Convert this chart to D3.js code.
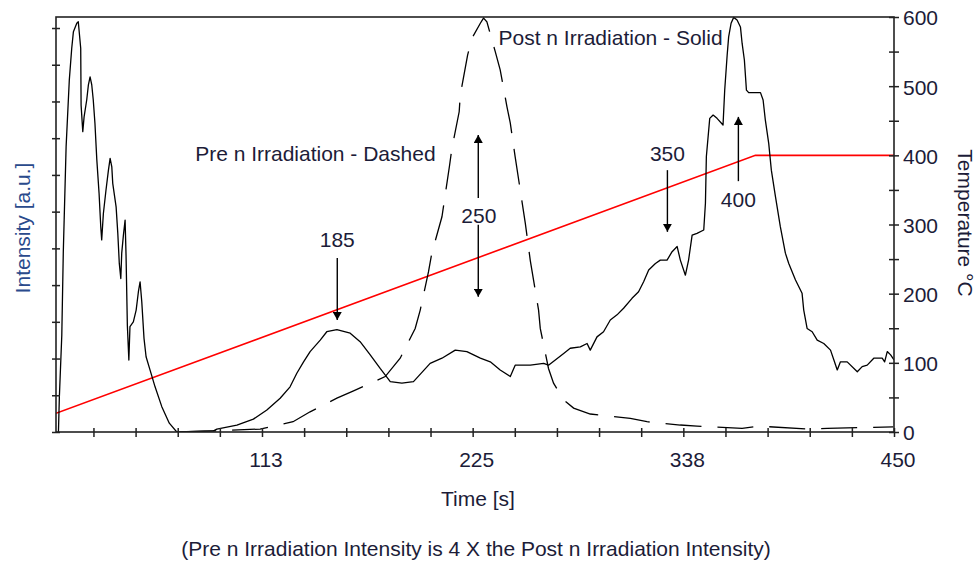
<!DOCTYPE html>
<html>
<head>
<meta charset="utf-8">
<script src="https://cdn.jsdelivr.net/npm/d3@7"></script>
<style>
  html, body { margin: 0; padding: 0; background: #fff; }
  svg { display: block; font-family: "Liberation Sans", Arial, sans-serif; }
</style>
</head>
<body>
<svg id="chart" width="979" height="566"></svg>
<script>
// ---- data -------------------------------------------------------------
// Time ticks every 22.5 s, labelled every 112.5 s
const timeTicks = d3.range(22.5, 450.01, 22.5);
const timeLabels = [112.5, 225, 337.5, 450];
// Intensity axis carries unlabelled ticks only
const intensityTicks = d3.range(0, 12, 1);
// Temperature axis: minor ticks every 50 °C, labels every 100 °C
const tempTicks = d3.range(0, 601, 50);
const tempLabels = [0, 100, 200, 300, 400, 500, 600];

// Post n irradiation glow curve (solid) : [time s, intensity a.u.]
const postSolid = [
  [3.8,0],[4.3,0.96],[5.6,2.64],[6.4,4.91],[7.9,7.77],[9.6,9.58],[10.9,10.45],[11.8,10.90],
  [13.6,11.13],[14.4,11.17],[15.7,10.45],[15.9,8.90],[16.8,8.18],[17.5,8.58],[18.9,9.04],
  [19.8,9.45],[20.7,9.67],[21.6,9.45],[22.4,9.04],[23.3,8.40],[24.3,7.41],[25.5,6.50],
  [26.4,5.59],[26.9,5.23],[27.8,5.95],[29.2,6.59],[30.5,7.13],[31.4,7.45],[32.3,7.22],
  [32.8,6.77],[34.6,6.13],[35.5,5.41],[36.3,4.59],[37.1,4.18],[37.6,4.87],[38.5,5.36],
  [39.4,5.77],[39.9,4.82],[40.6,2.91],[41.4,1.96],[42.0,2.87],[43.8,3.00],[45.3,3.32],
  [46.5,3.82],[47.4,4.09],[48.3,3.55],[49.5,2.55],[50.6,2.05],[52.7,1.69],[55.4,1.23],
  [59.0,0.69],[63.0,0.24],[67.0,0],[86.6,0.03],[88.4,0.08],[99.1,0.19],[107.9,0.35],
  [115.1,0.60],[122.2,0.92],[127.5,1.23],[131.1,1.60],[134.7,1.91],[138.2,2.19],[143.6,2.50],
  [147.1,2.73],[152.5,2.79],[159.6,2.69],[164.9,2.46],[170.3,2.10],[175.6,1.73],[181.0,1.37],
  [187.2,1.33],[193.4,1.37],[202.3,1.87],[208.6,2.01],[215.7,2.23],[221.9,2.19],[229.1,2.01],
  [234.4,1.91],[239.7,1.69],[245.1,1.51],[247.7,1.82],[255.8,1.82],[262.9,1.87],[265.5,1.82],
  [273.6,2.14],[277.1,2.28],[282.5,2.32],[286.1,2.41],[287.8,2.23],[291.4,2.59],[294.9,2.73],
  [298.5,3.05],[302.1,3.19],[305.6,3.37],[310.1,3.64],[313.6,3.82],[316.3,4.09],[319.0,4.41],
  [322.6,4.59],[325.2,4.68],[328.8,4.68],[331.5,4.91],[334.2,5.05],[335.9,4.68],[338.6,4.27],
  [340.3,4.68],[342.2,5.36],[344.8,5.41],[348.4,5.50],[349.3,6.23],[349.8,7.50],[351.6,8.54],
  [353.4,8.63],[355.5,8.54],[358.7,8.36],[359.6,9.31],[360.9,10.26],[361.7,10.76],[363.0,11.13],
  [364.4,11.29],[366.2,11.22],[368.0,11.03],[368.9,10.58],[370.1,10.13],[371.2,9.31],[372.4,9.24],
  [378.7,9.24],[380.1,9.04],[381.3,8.49],[383.1,7.86],[384.5,7.13],[386.7,6.41],[389.3,5.59],
  [392.0,4.87],[393.8,4.59],[397.4,4.14],[400.9,3.78],[401.8,3.32],[403.6,2.82],[406.3,2.73],
  [409.0,2.50],[412.5,2.41],[416.1,2.23],[417.9,1.96],[419.7,1.69],[421.4,1.91],[425.0,1.91],
  [430.4,1.64],[433.0,1.78],[435.7,1.82],[439.2,2.01],[443.7,2.01],[445.0,1.91],[446.4,2.19],
  [448.2,2.10],[450,1.96]
];

// Pre n irradiation glow curve (dashed) : [time s, intensity a.u.]
const preDashed = [
  [68.8,0],[86.4,0.03],[111.5,0.08],[129.1,0.28],[138.2,0.55],[152.5,0.92],[161.4,1.12],
  [178.3,1.51],[186.3,2.01],[194.3,2.82],[197.0,3.32],[201.4,4.36],[203.2,4.87],[208.6,5.86],
  [212.7,7.27],[213.9,7.72],[217.8,8.72],[218.4,9.18],[222.3,10.26],[224.6,10.72],[229.1,11.13],
  [230.8,11.27],[232.6,11.17],[237.1,10.35],[239.7,9.86],[243.3,8.86],[245.1,8.41],[247.7,7.49],
  [250.4,6.59],[253.1,5.69],[255.8,4.66],[257.5,4.14],[260.2,3.32],[261.1,2.82],[265.5,1.73],
  [268.2,1.33],[273.6,0.87],[278.9,0.65],[287.8,0.49],[309.2,0.37],[318.1,0.28],[335.9,0.19],
  [344.8,0.16],[368.9,0.10],[377.6,0.16],[404.3,0.08],[414.3,0.10],[449.6,0.14]
];

// Heating profile: [time s, temperature °C]
const tempRamp = [[2.5, 27], [376, 400], [450, 400]];

// Peak temperature annotations (time s; intensity of label baseline; arrow spans)
const peakNames = ["185", "250", "350", "400"];
const peakTimes = [152.7, 228.3, 329.0, 366.9];
const peakLabelLevels = [5.03, 5.68, 7.38, 6.13];
const peakArrows = [
  { t: 152.7, from: 4.74, to: 3.05 },
  { t: 228.0, from: 6.37, to: 8.09 },
  { t: 228.0, from: 5.64, to: 3.68 },
  { t: 329.0, from: 7.13, to: 5.45 },
  { t: 366.9, from: 6.83, to: 8.58 }
];

// ---- scales -----------------------------------------------------------
const x = d3.scaleLinear().domain([2.5, 450]).range([56, 894]);
const yI = d3.scaleLinear().domain([0, 11.3]).range([432, 17]);
const yT = d3.scaleLinear().domain([0, 600]).range([432, 17]);

const svg = d3.select("#chart");
const textColor = "#1c1c38";
const axisColor = "#222";
const fontSize = "21px";

svg.append("rect").attr("width", 979).attr("height", 566).attr("fill", "#fff");

svg.append("defs").append("clipPath").attr("id", "plot")
  .append("rect")
  .attr("x", x.range()[0]).attr("y", yI.range()[1] - 2)
  .attr("width", x.range()[1] - x.range()[0])
  .attr("height", yI.range()[0] - yI.range()[1] + 2);

svg.select("defs").append("marker")
  .attr("id", "head")
  .attr("viewBox", "0 0 8 9")
  .attr("refX", 8).attr("refY", 4.5)
  .attr("markerWidth", 8).attr("markerHeight", 9)
  .attr("markerUnits", "userSpaceOnUse")
  .attr("orient", "auto")
  .append("path").attr("d", "M0,0 L8,4.5 L0,9 Z").attr("fill", "#000");

// ---- curves -----------------------------------------------------------
const plot = svg.append("g").attr("clip-path", "url(#plot)");

const intensityLine = d3.line().x(d => x(d[0])).y(d => yI(d[1]));
const tempLine = d3.line().x(d => x(d[0])).y(d => yT(d[1]));

plot.append("path").datum(tempRamp)
  .attr("d", tempLine).attr("fill", "none")
  .attr("stroke", "#ff0000").attr("stroke-width", 1.6);

plot.append("path").datum(preDashed)
  .attr("d", intensityLine).attr("fill", "none")
  .attr("stroke", "#000").attr("stroke-width", 1.3)
  .attr("stroke-dasharray", "36,16");

plot.append("path").datum(postSolid)
  .attr("d", intensityLine).attr("fill", "none")
  .attr("stroke", "#000").attr("stroke-width", 1.3)
  .attr("stroke-linejoin", "round");

// ---- axes -------------------------------------------------------------
function styleAxis(g) {
  g.select(".domain").remove();
  g.selectAll(".tick line").attr("stroke", axisColor).attr("stroke-width", 1.5);
  g.selectAll("text").attr("fill", textColor)
    .attr("font-size", fontSize).attr("font-family", "Liberation Sans, Arial, sans-serif");
}

// bottom time axis: ticks cross the axis line
svg.append("g").attr("transform", `translate(0,${yI.range()[0]})`)
  .call(d3.axisBottom(x).tickValues(timeTicks).tickSize(5).tickSizeOuter(0)
    .tickFormat(d => timeLabels.includes(d) ? d3.format(".0f")(d) : ""))
  .call(styleAxis)
  .call(g => g.selectAll("text").attr("y", 34.7).attr("dy", 0).attr("dx", 3.5));
svg.append("g").attr("transform", `translate(0,${yI.range()[0]})`)
  .call(d3.axisTop(x).tickValues(timeTicks).tickSize(4).tickSizeOuter(0).tickFormat(""))
  .call(styleAxis);

// left intensity axis, unlabelled
svg.append("g").attr("transform", `translate(${x.range()[0]},0)`)
  .call(d3.axisLeft(yI).tickValues(intensityTicks).tickSize(4).tickSizeOuter(0).tickFormat(""))
  .call(styleAxis);
svg.append("g").attr("transform", `translate(${x.range()[0]},0)`)
  .call(d3.axisRight(yI).tickValues(intensityTicks).tickSize(4).tickSizeOuter(0).tickFormat(""))
  .call(styleAxis);

// right temperature axis
svg.append("g").attr("transform", `translate(${x.range()[1]},0)`)
  .call(d3.axisRight(yT).tickValues(tempTicks).tickSize(5).tickPadding(4).tickSizeOuter(0)
    .tickFormat(d => tempLabels.includes(d) ? d : ""))
  .call(styleAxis)
  .call(g => g.selectAll("text").attr("dy", "0.38em"));
svg.append("g").attr("transform", `translate(${x.range()[1]},0)`)
  .call(d3.axisLeft(yT).tickValues(tempTicks).tickSize(5).tickSizeOuter(0).tickFormat(""))
  .call(styleAxis);

// plot frame
svg.append("rect")
  .attr("x", x.range()[0]).attr("y", yI.range()[1])
  .attr("width", x.range()[1] - x.range()[0])
  .attr("height", yI.range()[0] - yI.range()[1])
  .attr("fill", "none").attr("stroke", axisColor).attr("stroke-width", 1.6);

// ---- titles -----------------------------------------------------------
const txt = (s) => svg.append("text").text(s)
  .attr("fill", textColor).attr("font-size", fontSize);

txt("Time [s]").attr("x", 478).attr("y", 506).attr("text-anchor", "middle");
txt("(Pre n Irradiation Intensity is 4 X the Post n Irradiation Intensity)")
  .attr("x", 476).attr("y", 556).attr("text-anchor", "middle");
txt("Intensity [a.u.]").attr("text-anchor", "middle")
  .attr("fill", "#2a4a8c")
  .attr("transform", "translate(29.5,228) rotate(-90)");
txt("Temperature °C").attr("text-anchor", "middle")
  .attr("transform", "translate(958,223) rotate(90)");

txt("Post n Irradiation - Solid").attr("x", x(238.8)).attr("y", yI(10.54));
txt("Pre n Irradiation - Dashed").attr("x", x(76.8)).attr("y", yI(7.38));

// peak labels and arrows
peakNames.forEach((name, i) => {
  txt(name).attr("x", x(peakTimes[i])).attr("y", yI(peakLabelLevels[i]))
    .attr("text-anchor", "middle");
});
svg.append("g").selectAll("line").data(peakArrows).join("line")
  .attr("x1", d => x(d.t)).attr("x2", d => x(d.t))
  .attr("y1", d => yI(d.from)).attr("y2", d => yI(d.to))
  .attr("stroke", "#000").attr("stroke-width", 1.4)
  .attr("marker-end", "url(#head)");
</script>
</body>
</html>
